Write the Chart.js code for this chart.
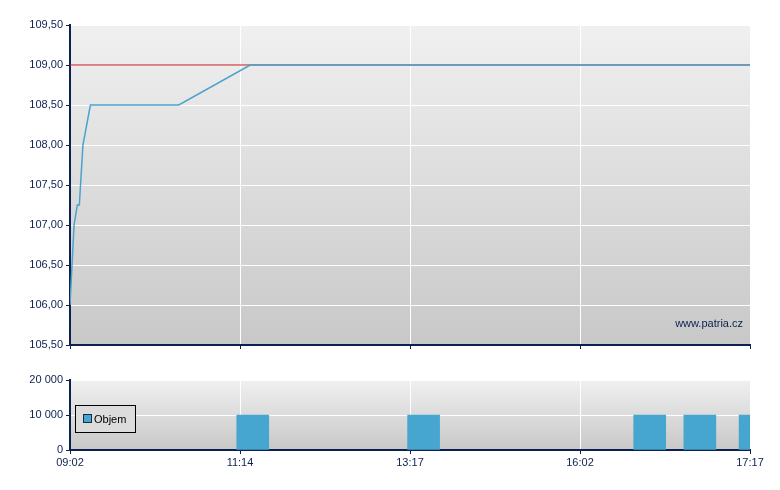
<!DOCTYPE html>
<html>
<head>
<meta charset="utf-8">
<script src="https://cdn.jsdelivr.net/npm/chart.js@4.4.1/dist/chart.umd.min.js"></script>
<style>
    body { margin: 0; background: #fff; }
    #wrap { position: relative; width: 780px; height: 490px; }
    #price-wrap { position: absolute; left: 0; top: 0; width: 780px; height: 360px; }
    #volume-wrap { position: absolute; left: 0; top: 360px; width: 780px; height: 130px; }
</style>
</head>
<body>
<div id="wrap">
    <div id="price-wrap"><canvas id="price-chart"></canvas></div>
    <div id="volume-wrap"><canvas id="volume-chart"></canvas></div>
</div>
<script>
// x runs in "slots": each time label below is 10 slots apart
var timeLabels = ['09:02', '11:14', '13:17', '16:02', '17:17'];

var priceX = [0, 0.24, 0.43, 0.55, 0.76, 1.2, 6.4, 10.6, 40];
var priceY = [106.00, 107.00, 107.25, 107.25, 108.00, 108.50, 108.50, 109.00, 109.00];
var prevClose = 109.00;

var volumeX = [10.75, 20.8, 34.1, 37.05, 40.3];
var volumeY = [10000, 10000, 10000, 10000, 10000];

var priceTicks = { min: 105.5, max: 109.5, step: 0.5 };
var volumeTicks = { min: 0, max: 20000, step: 10000 };

document.addEventListener('DOMContentLoaded', function() {

    var navy = '#0c2150';
    var font = { family: '"Liberation Sans", Arial, sans-serif', size: 11 };

    function pairs(xs, ys) {
        return xs.map(function(x, i) { return { x: x, y: ys[i] }; });
    }

    function timeLabel(value) {
        var i = value / 10;
        return timeLabels[i] !== undefined ? timeLabels[i] : '';
    }

    function priceLabel(value) {
        return value.toFixed(2).replace('.', ',');
    }

    function volumeLabel(value) {
        return String(value).replace(/\B(?=(\d{3})+(?!\d))/g, ' ');
    }

    var panelBackground = {
        id: 'panelBackground',
        beforeDraw: function(chart) {
            var a = chart.chartArea;
            var ctx = chart.ctx;
            var g = ctx.createLinearGradient(0, a.top, 0, a.bottom);
            g.addColorStop(0, '#f0f0f0');
            g.addColorStop(1, '#c8c8c8');
            ctx.save();
            ctx.fillStyle = g;
            ctx.fillRect(a.left, a.top, a.right - a.left, a.bottom - a.top);
            ctx.restore();
        }
    };

    var watermark = {
        id: 'watermark',
        afterDraw: function(chart) {
            var a = chart.chartArea;
            var ctx = chart.ctx;
            ctx.save();
            ctx.font = '11px ' + font.family;
            ctx.fillStyle = navy;
            ctx.textAlign = 'right';
            ctx.textBaseline = 'alphabetic';
            ctx.fillText('www.patria.cz', a.right - 7, a.bottom - 18);
            ctx.restore();
        }
    };

    var volumeLegend = {
        id: 'volumeLegend',
        afterDraw: function(chart) {
            var a = chart.chartArea;
            var ctx = chart.ctx;
            var x = a.left + 5, y = a.top + 25;
            ctx.save();
            ctx.fillStyle = '#dcdcdc';
            ctx.fillRect(x, y, 60, 27);
            ctx.strokeStyle = '#000';
            ctx.lineWidth = 1;
            ctx.strokeRect(x + 0.5, y + 0.5, 60, 27);
            ctx.fillStyle = '#47a6cf';
            ctx.fillRect(x + 9, y + 10, 7, 7);
            ctx.strokeStyle = '#1a2a40';
            ctx.strokeRect(x + 8.5, y + 9.5, 8, 8);
            ctx.fillStyle = '#000';
            ctx.font = '11px ' + font.family;
            ctx.textBaseline = 'middle';
            ctx.fillText('Objem', x + 19, y + 14.5);
            ctx.restore();
        }
    };

    function hideRightEdge(ctx) {
        return ctx.tick && ctx.tick.value === 40 ? 'rgba(0,0,0,0)' : '#ffffff';
    }

    new Chart(document.getElementById('price-chart'), {
        type: 'line',
        data: {
            datasets: [{
                data: pairs(priceX, priceY),
                borderColor: '#4aa3cc',
                borderWidth: 1.5,
                pointRadius: 0,
                tension: 0
            }, {
                data: [{ x: 0, y: prevClose }, { x: 40, y: prevClose }],
                borderColor: '#c4161c',
                borderWidth: 1.2,
                pointRadius: 0
            }]
        },
        options: {
            responsive: true,
            maintainAspectRatio: false,
            animation: false,
            layout: { padding: { top: 25, right: 30, left: 0, bottom: 0 } },
            plugins: { legend: { display: false }, tooltip: { enabled: false } },
            scales: {
                x: {
                    type: 'linear',
                    min: 0,
                    max: 40,
                    ticks: { stepSize: 10, display: false },
                    grid: { color: hideRightEdge, tickColor: navy, tickLength: 4 },
                    border: { color: navy, width: 2 },
                    afterFit: function(s) { s.height = 15; }
                },
                y: {
                    min: priceTicks.min,
                    max: priceTicks.max,
                    ticks: { stepSize: priceTicks.step, color: navy, font: font, padding: 3, callback: priceLabel },
                    grid: { color: '#ffffff', tickColor: navy, tickLength: 4 },
                    border: { color: navy, width: 2 },
                    afterFit: function(s) { s.width = 70; }
                }
            }
        },
        plugins: [panelBackground, watermark]
    });

    new Chart(document.getElementById('volume-chart'), {
        type: 'bar',
        data: {
            datasets: [{
                data: pairs(volumeX, volumeY),
                backgroundColor: '#47a6cf',
                barThickness: 32,
                clip: 0
            }]
        },
        options: {
            responsive: true,
            maintainAspectRatio: false,
            animation: false,
            layout: { padding: { top: 20, right: 30, left: 0, bottom: 0 } },
            plugins: { legend: { display: false }, tooltip: { enabled: false } },
            scales: {
                x: {
                    type: 'linear',
                    min: 0,
                    max: 40,
                    offset: false,
                    ticks: { stepSize: 10, color: navy, font: font, padding: 2, maxRotation: 0, callback: timeLabel },
                    grid: { color: hideRightEdge, tickColor: navy, tickLength: 4, offset: false },
                    border: { color: navy, width: 2 },
                    afterFit: function(s) { s.height = 40; }
                },
                y: {
                    min: volumeTicks.min,
                    max: volumeTicks.max,
                    ticks: { stepSize: volumeTicks.step, color: navy, font: font, padding: 3, callback: volumeLabel },
                    grid: { color: '#ffffff', tickColor: navy, tickLength: 4 },
                    border: { color: navy, width: 2 },
                    afterFit: function(s) { s.width = 70; }
                }
            }
        },
        plugins: [panelBackground, volumeLegend]
    });
});
</script>
</body>
</html>
